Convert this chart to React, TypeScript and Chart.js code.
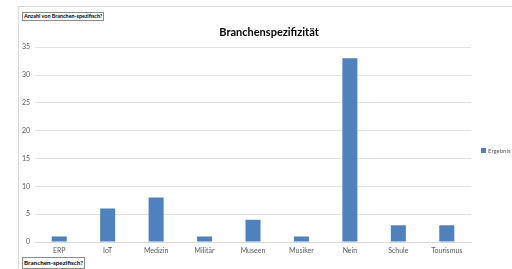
import React, { useEffect, useRef } from "react";
import { Chart, registerables } from "chart.js";

Chart.register(...registerables);

const categories = ["ERP", "IoT", "Medizin", "Militär", "Museen", "Musiker", "Nein", "Schule", "Tourismus"];
const values = [1, 6, 8, 1, 4, 1, 33, 3, 3];
const seriesName = "Ergebnis";
const chartTitle = "Branchenspezifizität";
const valueFieldLabel = "Anzahl von Branchen-spezifisch?";
const axisFieldLabel = "Branchen-spezifisch?";
const yTicks = [0, 5, 10, 15, 20, 25, 30, 35];

const BAR = "#4f81bd";
const FONT = "Lato, 'Open Sans', sans-serif";

const titleShift = {
  id: "titleShift",
  afterLayout(chart: any) {
    const t = chart.titleBlock;
    if (t) {
      t.left += 13;
      t.right += 13;
    }
  },
};

export default function App() {
  const ref = useRef<HTMLCanvasElement | null>(null);

  useEffect(() => {
    document.body.style.margin = "0";
    const ctx = ref.current!.getContext("2d")!;
    const chart = new Chart(ctx, {
      type: "bar",
      data: {
        labels: categories,
        datasets: [
          {
            label: seriesName,
            data: values,
            backgroundColor: BAR,
            borderWidth: 0,
            barPercentage: 0.31,
            categoryPercentage: 1,
          },
        ],
      },
      plugins: [titleShift],
      options: {
        animation: false,
        responsive: false,
        maintainAspectRatio: false,
        layout: { padding: { left: 0, right: 0, top: 0, bottom: 0 } },
        plugins: {
          legend: { display: false },
          tooltip: { enabled: false },
          title: {
            display: true,
            text: chartTitle,
            color: "#000000",
            font: { family: FONT, size: 11, weight: "bold" },
            padding: { top: 26, bottom: 8 },
          },
        },
        scales: {
          x: {
            grid: { display: false, drawTicks: false },
            border: { display: true, color: "#d9d9d9" },
            ticks: { color: "#595959", font: { family: FONT, size: 7 }, padding: 5, maxRotation: 0 },
            afterFit: (s: any) => {
              s.height = 27;
            },
          },
          y: {
            min: 0,
            max: 35,
            afterBuildTicks: (s: any) => {
              s.ticks = yTicks.map((v) => ({ value: v }));
            },
            grid: { color: "#e3e3e3", drawTicks: false },
            border: { display: false },
            ticks: { color: "#595959", font: { family: FONT, size: 7 }, padding: 5 },
            afterFit: (s: any) => {
              s.width = 35;
            },
          },
          legendSpace: {
            type: "linear",
            position: "right",
            display: true,
            grid: { display: false, drawTicks: false },
            border: { display: false },
            ticks: { display: false },
            afterFit: (s: any) => {
              s.width = 41;
            },
          },
        },
      },
    });
    return () => chart.destroy();
  }, []);

  const btn: React.CSSProperties = {
    position: "absolute",
    border: "1px solid #8c8c8c",
    background: "#fff",
    fontFamily: FONT,
    fontWeight: "bold",
    color: "#000",
    padding: "0 1px",
    whiteSpace: "nowrap",
  };

  return (
    <div style={{ position: "absolute", left: 0, top: 0, width: 512, height: 269, background: "#fff", overflow: "hidden" }}>
      <canvas ref={ref} width={512} height={269} style={{ position: "absolute", left: 0, top: 0 }} />
      <div style={{ position: "absolute", left: 18, top: 6, right: 0, bottom: 0, borderLeft: "1px solid #d9d9d9", borderTop: "1px solid #d9d9d9", pointerEvents: "none" }} />
      <div style={{ ...btn, left: 22, top: 12, fontSize: 5.4, lineHeight: "7px" }}>{valueFieldLabel}</div>
      <div style={{ ...btn, left: 22, top: 257, fontSize: 6.3, lineHeight: "10px" }}>{axisFieldLabel}</div>
      <div style={{ position: "absolute", left: 481, top: 147, display: "flex", alignItems: "center", fontFamily: FONT, fontSize: 6, color: "#595959" }}>
        <span style={{ display: "inline-block", width: 5, height: 5, background: BAR, marginRight: 2 }} />
        <span>{seriesName}</span>
      </div>
    </div>
  );
}
